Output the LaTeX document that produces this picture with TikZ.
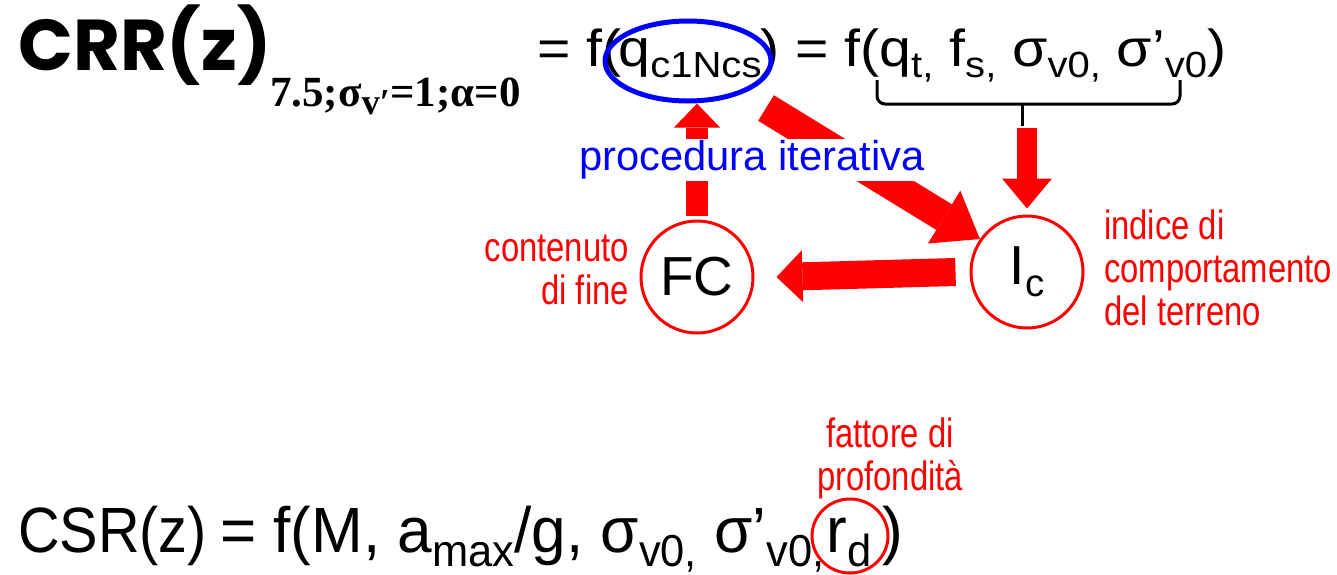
\documentclass[tikz,border=0pt]{standalone}
\usepackage{fontspec}
\setmainfont{Liberation Sans}
\newfontfamily\crrfont{Poppins}
\newfontfamily\serfont{Liberation Serif}
\newfontfamily\narfont{Liberation Sans}[FakeStretch=0.8]
\newfontfamily\topfont{Liberation Sans}[FakeStretch=1.1]
\newfontfamily\botfont{Liberation Sans}[FakeStretch=0.9]
\newfontfamily\botfontb{Liberation Sans}[FakeStretch=0.97]
\usetikzlibrary{arrows.meta,shapes.geometric}
\newcommand{\lo}[1]{\raisebox{-0.22em}{\scalebox{0.7}{#1}}}
\newcommand{\losub}[1]{\raisebox{-0.2em}{\scalebox{0.85}{#1}}}
\tikzset{
  eqtop/.style={inner sep=0pt, font=\topfont\fontsize{52}{56}\selectfont},
  eqbot/.style={inner sep=0pt, font=\botfontb\fontsize{64}{68}\selectfont},
  redlab/.style={inner sep=0pt, text=red, font=\narfont\fontsize{41}{43}\selectfont},
  circ/.style={circle, draw=red, line width=3pt, minimum size=112pt, inner sep=0pt, font=\fontsize{55}{60}\selectfont},
  blk/.style n args={3}{draw=red, line width=#1, -{Triangle[length=#3, width=#2, line width=0pt]}},
  bracep/.style={draw=black, line width=3pt, rounded corners=8pt}
}
\begin{document}
\begin{tikzpicture}[x=1pt,y=-1pt]
\path[use as bounding box] (0,0) rectangle (1337,574);
% top equation
\node[anchor=base west, inner sep=0pt, font=\crrfont\bfseries\fontsize{72}{76}\selectfont] (crr) at (18,70) {CRR(z)};
\node[anchor=base west, inner sep=0pt, font=\serfont\bfseries\fontsize{43}{48}\selectfont] (sub) at (270,106) {7.5;σ\losub{v′}=1;α=0};
\node[eqtop, anchor=base west] (eqa) at (537,66) {= f(};
\node[eqtop, anchor=base] (qt) at (690,66) {q\lo{c1Ncs}};
\node[eqtop, anchor=base west] (eqb) at (760,66) {) = f(q\lo{t,} f\lo{s,} σ\lo{v0,} σ’\lo{v0})};
\node[ellipse, draw=blue, line width=5pt, minimum width=166pt, minimum height=80pt, inner sep=0pt] (q) at (688,61) {};
% brace
\draw[bracep] (877,80) -- (877,104) -- (1180,104) -- (1180,80);
\draw[bracep] (1022,104) -- (1022,126);
\coordinate (bt) at (1027,128);
% circles
\node[circ] (fc) at (697,277) {FC};
\node[circ] (ic) at (1027,272) {I\lo{c}};
% arrows
\coordinate (d0) at (766,108);
\draw[blk={22pt}{46pt}{24pt}] ([yshift=4pt]fc.north) -- (fc.north |- q.south);
\draw[blk={30pt}{62pt}{42pt}] (d0) -- (ic.145);
\draw[blk={28pt}{52pt}{26pt}] ([xshift=-14pt]ic.west) -- ([xshift=22pt]fc.east);
\draw[blk={20pt}{50pt}{30pt}] (bt) -- ([yshift=6pt]ic.north);
% label
\node[fill=white, inner sep=2pt, text=blue, font=\fontsize{41.7}{44}\selectfont] (it) at (752,160) {procedura iterativa};
\node[redlab, anchor=east, align=right] (fcl) at (629,270) {contenuto\\di fine};
\node[redlab, anchor=west, align=left] (icl) at (1104,268) {indice di\\comportamento\\del terreno};
% bottom equation
\node[inner sep=0pt, font=\botfont\fontsize{64}{68}\selectfont, anchor=base west] (csr) at (18,552) {CSR(z)};
\node[eqbot, anchor=base west] (eqc) at (220,552) {= f(M, a\lo{max}/g, σ\lo{v0,} σ’\lo{v0,}};
\node[eqbot, anchor=base] (rdt) at (849,552) {r\lo{d}};
\node[eqbot, anchor=base west] (cl) at (882,552) {)};
\node[ellipse, draw=red, line width=3pt, minimum width=76pt, minimum height=74pt, inner sep=0pt] (rd) at (850,536) {};
\node[redlab, align=center] (rdl) at (890,458) {fattore di\\profondità};
\end{tikzpicture}
\end{document}
